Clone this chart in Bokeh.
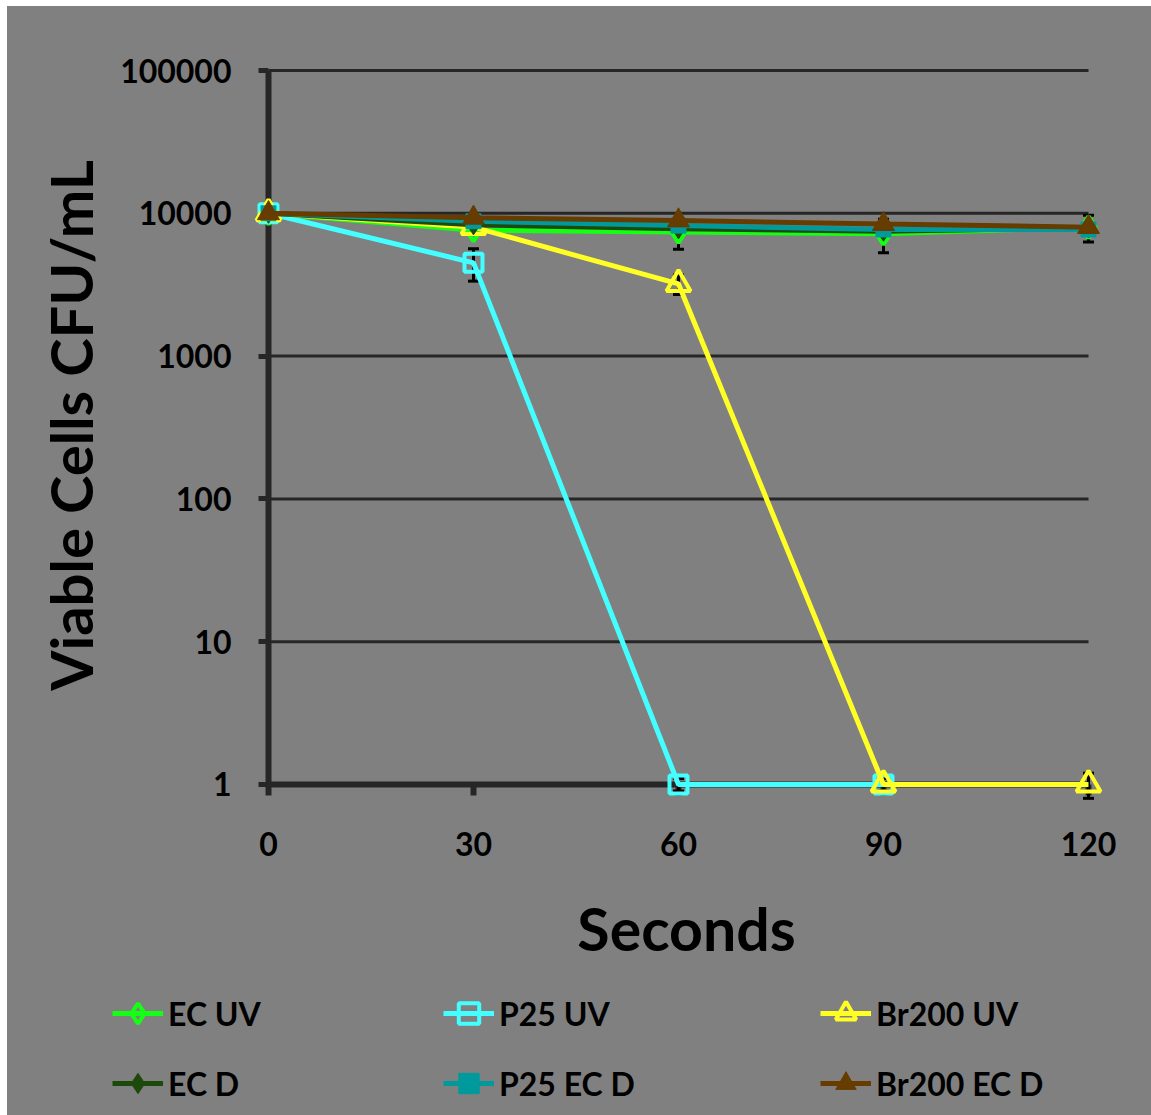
import math
from bokeh.plotting import figure
from bokeh.models import (ColumnDataSource, Range1d, FixedTicker, Legend, LegendItem,
                          Whisker, TeeHead, Spacer, Label)
from bokeh.layouts import column, row
from bokeh.embed import file_html
from bokeh.resources import INLINE

# Exposure time (s) and viable counts (CFU/mL)
seconds = [0, 30, 60, 90, 120]

ec_uv = [10000, 7600, 7400, 7200, 8000]
ec_uv_err = [0, 0, 1800, 1900, 1700]

p25_uv_seconds = [0, 30, 60, 90]
p25_uv = [10000, 4500, 1, 1]
p25_uv_err = [0, 1150, 0.1, 0.1]

br200_uv = [10000, 8000, 3200, 1, 1]
br200_uv_err = [0, 0, 500, 0, 0.2]

ec_d = [10000, 8300, 7800, 7500, 7900]
p25_ec_d = [10000, 8800, 8200, 7700, 7700]
br200_ec_d = [10000, 9300, 8900, 8400, 8000]

y_ticks = [1, 10, 100, 1000, 10000, 100000]
y_tick_labels = ["1", "10", "100", "1000", "10000", "100000"]
x_ticks = [0, 30, 60, 90, 120]

FONT = "Lato"
AXIS_COLOR = "#262626"
BG = "#808080"

W, H = 1144, 1109

# the plotting frame covers the whole canvas; axes cross at (0, 1)
p = figure(
    width=W, height=H,
    x_range=Range1d(-38.195, 129.2195),
    y_range=Range1d(10 ** -2.31793, 10 ** 5.44818),
    y_axis_type="log",
    output_backend="svg", toolbar_location=None,
    min_border=0, min_border_left=0, min_border_right=0,
    min_border_top=0, min_border_bottom=0,
    background_fill_color=None, border_fill_color=None, outline_line_color=None,
)
p.styles = {"background-color": BG}
p.grid.visible = False

grid_src = ColumnDataSource(dict(
    x0=[x_ticks[0]] * (len(y_ticks) - 1),
    x1=[x_ticks[-1]] * (len(y_ticks) - 1),
    y=y_ticks[1:],
))
p.segment(x0="x0", y0="y", x1="x1", y1="y", source=grid_src,
          line_color=AXIS_COLOR, line_width=3, level="underlay")

xa = p.xaxis[0]
ya = p.yaxis[0]
xa.fixed_location = y_ticks[0]
ya.fixed_location = x_ticks[0]
xa.bounds = (x_ticks[0], x_ticks[-1])
ya.bounds = (y_ticks[0], y_ticks[-1])
for ax in (xa, ya):
    ax.level = "underlay"
    ax.axis_line_color = AXIS_COLOR
    ax.axis_line_width = 6
    ax.major_tick_line_color = AXIS_COLOR
    ax.minor_tick_line_color = None
    ax.major_tick_in = 0
    ax.major_label_text_font = FONT
    ax.major_label_text_font_style = "bold"
    ax.major_label_text_font_size = "32px"
    ax.major_label_text_color = "black"

xa.ticker = FixedTicker(ticks=x_ticks)
xa.major_tick_line_width = 6
xa.major_tick_out = 11
xa.major_label_standoff = 37

ya.ticker = FixedTicker(ticks=y_ticks)
ya.major_label_overrides = {t: s for t, s in zip(y_ticks, y_tick_labels)}
ya.major_tick_line_width = 5
ya.major_tick_out = 10
ya.major_label_standoff = 27

# axis titles
p.add_layout(Label(x=63, y=H - 419, x_units="screen", y_units="screen",
                   text="Viable Cells CFU/mL", angle=math.pi / 2,
                   text_align="center", text_baseline="middle",
                   text_font=FONT, text_font_style="bold", text_font_size="58px",
                   text_color="black"))
p.add_layout(Label(x=679, y=H - 922, x_units="screen", y_units="screen",
                   text="Seconds",
                   text_align="center", text_baseline="middle",
                   text_font=FONT, text_font_style="bold", text_font_size="59px",
                   text_color="black"))


def add_errors(xs, ys, errs):
    pts = [(x, y, e) for x, y, e in zip(xs, ys, errs) if e > 0]
    src = ColumnDataSource(dict(
        x=[q[0] for q in pts],
        upper=[q[1] + q[2] for q in pts],
        lower=[q[1] - q[2] for q in pts],
    ))
    w = Whisker(base="x", upper="upper", lower="lower", source=src, dimension="height",
                line_color="black", line_width=3, level="underlay",
                upper_head=TeeHead(size=11, line_color="black", line_width=3),
                lower_head=TeeHead(size=11, line_color="black", line_width=3))
    p.add_layout(w)


add_errors(seconds, ec_uv, ec_uv_err)
add_errors(p25_uv_seconds, p25_uv, p25_uv_err)
add_errors(seconds, br200_uv, br200_uv_err)

series = [
    ("EC UV", seconds, ec_uv, "#14ff14", dict(marker="diamond", size=22, fill_color=None, line_width=4)),
    ("P25 UV", p25_uv_seconds, p25_uv, "#44ffff", dict(marker="square", size=18, fill_color=None, line_width=4)),
    ("Br200 UV", seconds, br200_uv, "#ffff26", dict(marker="triangle", size=24, fill_color=None, line_width=4)),
    ("EC D", seconds, ec_d, "#1d4a0c", dict(marker="diamond", size=20, line_width=1)),
    ("P25 EC D", seconds, p25_ec_d, "#009a9c", dict(marker="square", size=15, line_width=1)),
    ("Br200 EC D", seconds, br200_ec_d, "#663c00", dict(marker="triangle", size=22, line_width=1)),
]

items = []
for name, xs, ys, color, mk in series:
    src = ColumnDataSource(dict(x=xs, y=ys))
    lr = p.line("x", "y", source=src, line_color=color, line_width=5)
    mk = dict(mk)
    if mk.get("fill_color", "") is not None:
        mk["fill_color"] = color
    sr = p.scatter("x", "y", source=src, line_color=color, **mk)
    items.append(LegendItem(label=name, renderers=[lr, sr]))

# legend: three columns of two entries along the bottom
cols_x = [105, 436, 813]
for ci, lx in enumerate(cols_x):
    leg = Legend(
        items=[items[ci], items[ci + 3]],
        location=(lx, 2),
        orientation="vertical",
        glyph_width=51, glyph_height=60, label_height=60,
        label_standoff=5, spacing=10, padding=0, margin=0,
        label_text_font=FONT, label_text_font_style="bold",
        label_text_font_size="32px", label_text_color="black",
        background_fill_alpha=0, border_line_color=None,
    )
    p.add_layout(leg, "center")

layout = column(Spacer(height=6), row(Spacer(width=7), p))
open("out.html", "w").write(file_html(layout, INLINE))
